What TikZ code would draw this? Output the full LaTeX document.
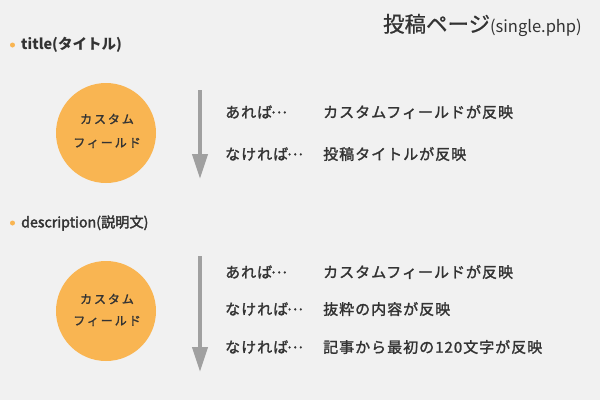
\documentclass[tikz,border=0pt]{standalone}
\usepackage{fontspec}
\setmainfont{Noto Sans CJK JP}
\newfontfamily\jp{Noto Sans CJK JP}
\newfontfamily\jpmed[FakeBold=2.2]{Noto Sans CJK JP}
\newfontfamily\jptitle[FakeBold=0.8]{Noto Sans CJK JP}
\newfontfamily\jpsp[LetterSpace=6.7,FakeBold=1.6]{Noto Sans CJK JP}
\newfontfamily\jpcirc[LetterSpace=16,FakeBold=1.8]{Noto Sans CJK JP}
\newcommand{\myell}{\makebox[0.9em][c]{\raisebox{0.3em}{…}}}
\definecolor{bg}{HTML}{F1F1F1}
\definecolor{orng}{HTML}{F9B552}
\definecolor{arr}{HTML}{A0A0A0}
\definecolor{txt}{HTML}{333333}
\usetikzlibrary{arrows.meta}
\begin{document}
\begin{tikzpicture}[x=1pt,y=-1pt,
  every node/.style={inner sep=0pt,text=txt},
  bulletdot/.style={circle,fill=orng,minimum size=5pt},
  head/.style={anchor=west,font=\jp\bfseries\fontsize{14.5}{14.5}\selectfont},
  headb/.style={anchor=west,font=\jpmed\fontsize{14.2}{14.2}\selectfont},
  circ/.style={circle,fill=orng,minimum size=100pt},
  circtxt/.style={font=\jpcirc\fontsize{12}{12}\selectfont,align=center},
  rowtxt/.style={anchor=west,font=\jpsp\fontsize{15}{15}\selectfont},
  flow/.style={draw=arr,line width=4.2pt,-{Triangle[width=15pt,length=25pt]}}]
\fill[bg] (0,0) rectangle (600,400);
\useasboundingbox (0,0) rectangle (600,400);
% title
\node[anchor=base east] (ttl) at (582,32) {{\jptitle\fontsize{21.5}{21.5}\selectfont 投稿ページ}{\jp\fontsize{16.5}{16.5}\selectfont(single.php)}};
% section 1
\node[bulletdot] (b1) at (12.5,45) {};
\node[head] (h1) at (21,45) {title(タイトル)};
\node[circ] (c1) at (106,133) {};
\node[circtxt] (c1a) at (107,119) {カスタム};
\node[circtxt] (c1b) at (107,143) {フィールド};
\coordinate (a1s) at (200,90);
\coordinate (a1e) at (200,179);
\draw[flow] (a1s) -- (a1e);
\node[rowtxt] (r1a) at (225,112) {あれば\myell};
\node[rowtxt] (r1b) at (323,112) {カスタムフィールドが反映};
\node[rowtxt] (r2a) at (225,154) {なければ\myell};
\node[rowtxt] (r2b) at (323,154) {投稿タイトルが反映};
% section 2
\node[bulletdot] (b2) at (12.5,223) {};
\node[headb] (h2) at (21,223) {description(説明文)};
\node[circ] (c2) at (106,311) {};
\node[circtxt] (c2a) at (107,299) {カスタム};
\node[circtxt] (c2b) at (107,321) {フィールド};
\coordinate (a2s) at (200,256);
\coordinate (a2e) at (200,372);
\draw[flow] (a2s) -- (a2e);
\node[rowtxt] (s1a) at (225,272) {あれば\myell};
\node[rowtxt] (s1b) at (323,272) {カスタムフィールドが反映};
\node[rowtxt] (s2a) at (225,309) {なければ\myell};
\node[rowtxt] (s2b) at (323,309) {抜粋の内容が反映};
\node[rowtxt] (s3a) at (225,347) {なければ\myell};
\node[rowtxt] (s3b) at (323,347) {記事から最初の120文字が反映};
\end{tikzpicture}
\end{document}
